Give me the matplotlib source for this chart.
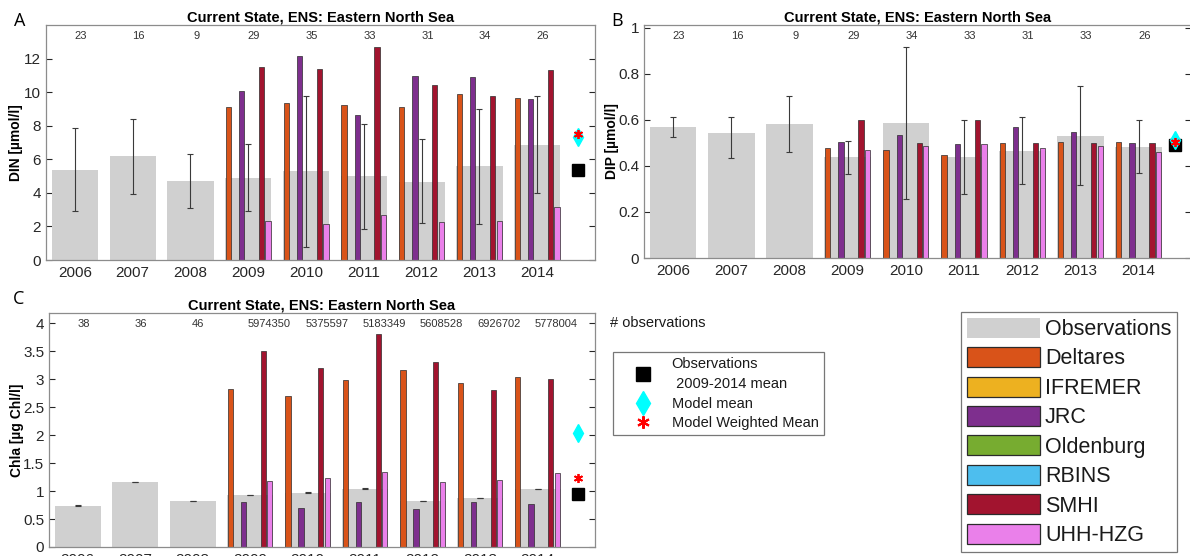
import numpy as np
import matplotlib
matplotlib.use("Agg")
import matplotlib.pyplot as plt
from matplotlib.patches import Patch
from matplotlib.lines import Line2D
from matplotlib.ticker import FuncFormatter

# ---------------------------------------------------------------- data
years = [2006, 2007, 2008, 2009, 2010, 2011, 2012, 2013, 2014]
model_years = [2009, 2010, 2011, 2012, 2013, 2014]

model_names = ["Deltares", "IFREMER", "JRC", "Oldenburg", "RBINS", "SMHI", "UHH-HZG"]
model_colors = ["#D95319", "#EDB120", "#7E2F8E", "#77AC30", "#4DBEEE", "#A2142F", "#EA80EA"]
obs_color = "#d0d0d0"

title = "Current State, ENS: Eastern North Sea"

# DIN (panel A)
din_obs = [5.39, 6.18, 4.69, 4.91, 5.29, 4.99, 4.66, 5.60, 6.88]
din_lo = [2.93, 3.96, 3.11, 2.93, 0.79, 1.86, 2.18, 2.14, 3.97]
din_hi = [7.86, 8.38, 6.30, 6.93, 9.76, 8.10, 7.18, 9.00, 9.80]
din_counts = ["23", "16", "9", "29", "35", "33", "31", "34", "26"]
din_deltares = [9.11, 9.33, 9.23, 9.13, 9.86, 9.66]
din_jrc = [10.06, 12.14, 8.65, 10.95, 10.90, 9.58]
din_smhi = [11.49, 11.39, 12.67, 10.40, 9.80, 11.30]
din_uhh = [2.30, 2.14, 2.71, 2.24, 2.32, 3.14]
din_model_mean = 7.30
din_weighted_mean = 7.48

# DIP (panel B)
dip_obs = [0.569, 0.543, 0.583, 0.437, 0.587, 0.437, 0.466, 0.531, 0.483]
dip_lo = [0.526, 0.436, 0.461, 0.367, 0.257, 0.279, 0.323, 0.317, 0.368]
dip_hi = [0.614, 0.611, 0.706, 0.507, 0.917, 0.600, 0.614, 0.746, 0.600]
dip_counts = ["23", "16", "9", "29", "34", "33", "31", "33", "26"]
dip_deltares = [0.477, 0.471, 0.447, 0.499, 0.506, 0.503]
dip_jrc = [0.504, 0.533, 0.496, 0.571, 0.549, 0.500]
dip_smhi = [0.600, 0.500, 0.600, 0.500, 0.500, 0.500]
dip_uhh = [0.470, 0.489, 0.496, 0.478, 0.487, 0.461]
dip_model_mean = 0.515
dip_weighted_mean = 0.503

# Chla (panel C)
chl_obs = [0.740, 1.164, 0.818, 0.925, 0.973, 1.045, 0.818, 0.878, 1.039]
chl_lo = [0.735, 1.159, 0.813, 0.920, 0.968, 1.040, 0.813, 0.873, 1.034]
chl_hi = [0.745, 1.169, 0.823, 0.930, 0.978, 1.050, 0.823, 0.883, 1.044]
chl_counts = ["38", "36", "46", "5974350", "5375597", "5183349",
              "5608528", "6926702", "5778004"]
chl_deltares = [2.818, 2.690, 2.985, 3.164, 2.937, 3.040]
chl_jrc = [0.806, 0.704, 0.806, 0.680, 0.800, 0.764]
chl_smhi = [3.504, 3.206, 3.803, 3.300, 2.800, 3.003]
chl_uhh = [1.182, 1.230, 1.331, 1.158, 1.194, 1.313]
chl_model_mean = 2.03
chl_weighted_mean = 1.23

# ---------------------------------------------------------------- style
plt.rcParams["font.family"] = ["Liberation Sans", "DejaVu Sans"]
TICK_COLOR = "#262626"
FRAME_COLOR = "#8c8c8c"

W, H = 1190, 556
fig = plt.figure(figsize=(W / 100, H / 100), dpi=100)


def px_box(left, top, right, bottom):
    return [left / W, 1 - bottom / H, (right - left) / W, (bottom - top) / H]


def draw_panel(ax, obs, lo, hi, series, counts, ylim, yticks, ylabel,
               model_mean, weighted_mean, xlim, marker_x, label_x):
    x = np.array(years, dtype=float)
    obs = np.array(obs)
    ax.bar(x, obs, width=0.8, color=obs_color, edgecolor="none", zorder=1)
    ax.errorbar(x, obs, yerr=[obs - np.array(lo), np.array(hi) - obs],
                fmt="none", ecolor="#3a3a3a", elinewidth=0.8,
                capsize=2.5, capthick=0.8, zorder=3)

    n = len(model_names)
    slot = 0.8 / n
    mx = np.array(model_years, dtype=float)
    for i, name in enumerate(model_names):
        vals = series.get(name)
        if vals is None:
            continue
        ax.bar(mx + (i - (n - 1) / 2) * slot, vals, width=slot * 0.8,
               color=model_colors[i], edgecolor="#2b2b2b", linewidth=0.5,
               zorder=2)

    obs_mean = float(np.mean(obs[3:]))
    ax.plot(marker_x, obs_mean, marker="s", ms=8, color="black",
            ls="none", zorder=4)
    ax.plot(marker_x, model_mean, marker="d", ms=9, color="cyan",
            ls="none", zorder=5)
    ax.plot(marker_x, weighted_mean, marker=(6, 2, 0), ms=6.5, mew=1.3,
            color="red", ls="none", zorder=6)

    for xi, c in zip(years, counts):
        off = 0.1 if len(c) <= 2 else 0.33
        ax.text(xi + off, 0.953, c, transform=ax.get_xaxis_transform(),
                ha="center", va="center", fontsize=8, color="#333333")

    ax.set_xlim(*xlim)
    ax.set_ylim(*ylim)
    ax.set_xticks(years)
    ax.set_yticks(yticks)
    ax.yaxis.set_major_formatter(FuncFormatter(lambda v, p: f"{v:g}"))
    ax.tick_params(axis="x", length=0, labelsize=11, colors=TICK_COLOR, pad=4)
    ax.tick_params(axis="y", direction="in", length=4, right=True,
                   labelsize=11, colors=TICK_COLOR, width=0.8)
    for s in ax.spines.values():
        s.set_color(FRAME_COLOR)
        s.set_linewidth(0.9)
    ax.set_axisbelow(True)
    ax.set_ylabel(ylabel, fontsize=10, fontweight="bold")
    ax.yaxis.set_label_coords(label_x, 0.5)
    ax.set_title(title, fontsize=10.5, fontweight="bold", pad=2.5)


axA = fig.add_axes(px_box(46, 25, 595, 260))
axB = fig.add_axes(px_box(644, 25, 1191, 258))
axC = fig.add_axes(px_box(49, 313, 595, 547))

draw_panel(axA, din_obs, din_lo, din_hi,
           {"Deltares": din_deltares, "JRC": din_jrc,
            "SMHI": din_smhi, "UHH-HZG": din_uhh},
           din_counts, (0, 14), np.arange(0, 13, 2), "DIN [µmol/l]",
           din_model_mean, din_weighted_mean, (2005.5, 2015), 2014.7, -0.041)

draw_panel(axB, dip_obs, dip_lo, dip_hi,
           {"Deltares": dip_deltares, "JRC": dip_jrc,
            "SMHI": dip_smhi, "UHH-HZG": dip_uhh},
           dip_counts, (0, 1.013), np.arange(0, 1.01, 0.2), "DIP [µmol/l]",
           dip_model_mean, dip_weighted_mean, (2005.5, 2014.9), 2014.63, -0.0457)

draw_panel(axC, chl_obs, chl_lo, chl_hi,
           {"Deltares": chl_deltares, "JRC": chl_jrc,
            "SMHI": chl_smhi, "UHH-HZG": chl_uhh},
           chl_counts, (0, 4.18), np.arange(0, 4.01, 0.5), "Chla [µg Chl/l]",
           chl_model_mean, chl_weighted_mean, (2005.5, 2015), 2014.7, -0.0458)

# panel letters
for letter, (lx, ly) in zip("ABC", [(20, 21), (617, 21), (19, 299)]):
    fig.text(lx / W, 1 - ly / H, letter, fontsize=13, ha="center", va="center",
             family=["Open Sans", "DejaVu Sans"])

fig.text(610 / W, 1 - 323 / H, "# observations", fontsize=10.5,
         ha="left", va="center", color="#1a1a1a")

# marker legend
marker_handles = [
    Line2D([], [], ls="none", marker="s", ms=9.5, color="black"),
    Line2D([], [], ls="none", marker="d", ms=12, color="cyan"),
    Line2D([], [], ls="none", marker=(6, 2, 0), ms=9, mew=1.5, color="red"),
]
marker_labels = ["Observations\n 2009-2014 mean", "Model mean", "Model Weighted Mean"]
leg1 = fig.legend(marker_handles, marker_labels, loc="upper left",
                  bbox_to_anchor=(612.7 / W, 1 - 351.7 / H), borderaxespad=0,
                  fontsize=10.5, frameon=True, fancybox=False,
                  edgecolor="#777777", framealpha=1, borderpad=0.35,
                  handlelength=3.45, handletextpad=0.24, labelspacing=0.36)
leg1.get_frame().set_linewidth(0.9)
for t in leg1.get_texts():
    t.set_color("#1a1a1a")
    t.set_linespacing(1.6)

# colour legend
color_handles = [Patch(facecolor=obs_color, edgecolor="none")] + [
    Patch(facecolor=c, edgecolor="#2b2b2b", linewidth=0.9) for c in model_colors]
color_labels = ["Observations"] + model_names
leg2 = fig.legend(color_handles, color_labels, loc="upper left",
                  bbox_to_anchor=(960.7 / W, 1 - 311.7 / H), borderaxespad=0,
                  fontsize=15.5, frameon=True, fancybox=False,
                  edgecolor="#777777", framealpha=1, borderpad=0.28,
                  handlelength=3.4, handleheight=1.05, handletextpad=0.24,
                  labelspacing=0.33)
leg2.get_frame().set_linewidth(0.9)
for t in leg2.get_texts():
    t.set_color("#1a1a1a")

fig.savefig("out.png", dpi=100)
